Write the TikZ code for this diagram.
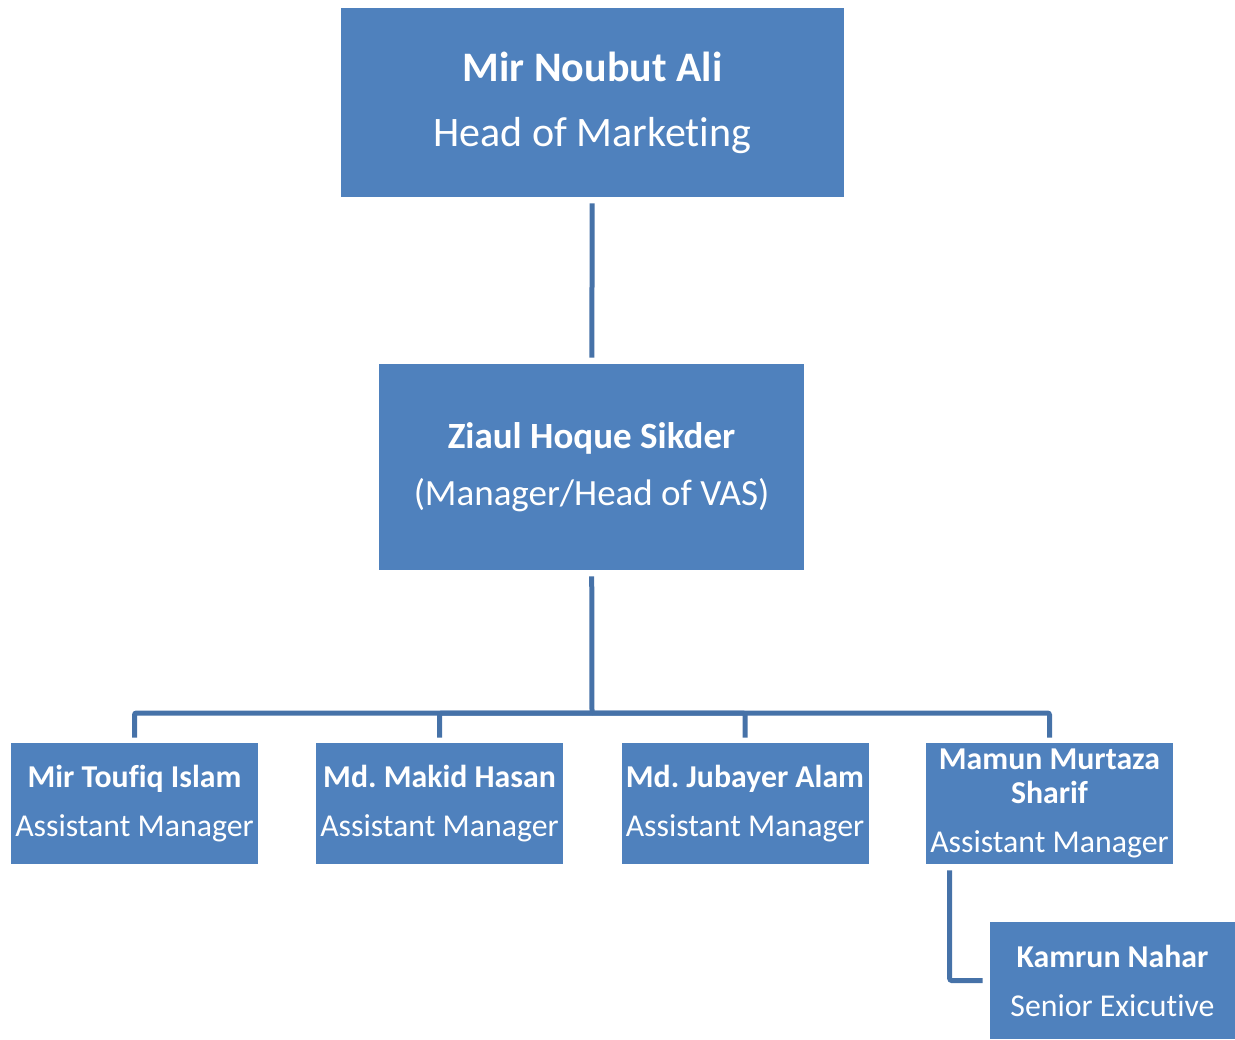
\documentclass[tikz,border=0pt]{standalone}
\usepackage{fontspec}
\setmainfont{Carlito}[Ligatures = NoCommon]
\usetikzlibrary{calc,positioning}
\definecolor{boxblue}{RGB}{79,129,189}
\definecolor{lineblue}{RGB}{70,114,168}
\frenchspacing
\begin{document}
\begin{tikzpicture}[x = 0.75pt, y = -0.75pt]
	\tikzstyle{every node} = [rectangle, fill = boxblue, text = white, align = center, inner sep = 0pt]
	\tikzstyle{link} = [draw = lineblue, line width = 3.75pt, rounded corners = 1.5pt]
	\tikzstyle{small} = [minimum width = 185.25pt, minimum height = 90.75pt, font = \fontsize{23.85}{36.75}\selectfont]
\useasboundingbox (0, 0) rectangle (1235, 1039);
\node[minimum width = 377.25pt, minimum height = 141.75pt, font = \fontsize{31.5}{48.75}\selectfont] (0) at (592.5, 102.5) {\textbf{Mir Noubut Ali}\\Head of Marketing};
\node[minimum width = 318.75pt, minimum height = 154.5pt, font = \fontsize{27.75}{42.75}\selectfont] (1) at (591.5, 467) {\textbf{Ziaul Hoque Sikder}\\(Manager/Head of VAS)};
\node[small] (2) at (134.5, 803.5) {\textbf{Mir Toufiq Islam}\\Assistant Manager};
\node[small] (3) at (439.5, 803.5) {\textbf{Md. Makid Hasan}\\Assistant Manager};
\node[small] (4) at (745, 803.5) {\textbf{Md. Jubayer Alam}\\Assistant Manager};
\node[small] (5) at (1049.5, 803.5) {\textbf{Mamun Murtaza}\\[-11.25pt]\textbf{Sharif}\\Assistant Manager};
\node[small, minimum width = 183.75pt, minimum height = 87.75pt] (6) at (1112.5, 980.5) {\textbf{Kamrun Nahar}\\Senior Exicutive};
\coordinate (b) at (592, 713);

	\path[link, shorten <= 4.5pt, shorten >= 4.5pt] (0) -- (1);
	\path[link, shorten <= 4.5pt] (1) -- (b);
	\path[link, shorten >= 3.75pt] (b) -| (2);
	\path[link, shorten >= 3.75pt] (b) -| (3);
	\path[link, shorten >= 3.75pt] (b) -| (4);
	\path[link, shorten >= 3.75pt] (b) -| (5);
	\path[link, shorten <= 4.5pt, shorten >= 5.25pt] ($(5.south west) + (24, 0)$) |- (6);
	\end{tikzpicture}
\end{document}
